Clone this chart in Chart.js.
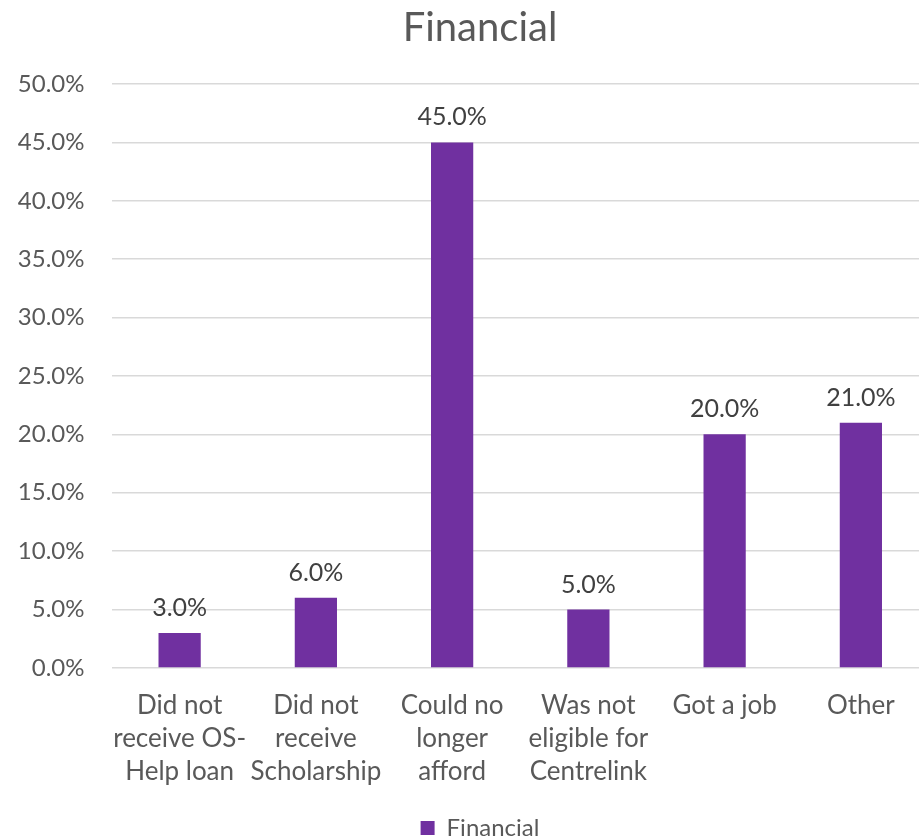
<!DOCTYPE html>
<html>
<head>
<meta charset="utf-8">
<script src="https://cdn.jsdelivr.net/npm/chart.js@4.4.0/dist/chart.umd.min.js"></script>
<style>
html,body{margin:0;padding:0;background:#fff;overflow:hidden;}
#wrap{width:919px;height:838px;overflow:hidden;position:relative;}
#c{position:absolute;left:0;top:0;}
</style>
</head>
<body>
<div id="wrap"><canvas id="c" width="960" height="838"></canvas></div>
<script>
const categories = [
  ["Did not", "receive OS-", "Help loan"],
  ["Did not", "receive", "Scholarship"],
  ["Could no", "longer", "afford"],
  ["Was not", "eligible for", "Centrelink"],
  ["Got a job"],
  ["Other"]
];
const financialValues = [3.0, 6.0, 45.0, 5.0, 20.0, 21.0];
const seriesName = "Financial";
const chartTitle = "Financial";

const FONT = "Lato, 'Open Sans', sans-serif";
const TEXT = "#595959";

const dataLabels = {
  id: 'dataLabels',
  afterDatasetsDraw(chart) {
    const ctx = chart.ctx;
    const meta = chart.getDatasetMeta(0);
    ctx.save();
    ctx.font = "25px " + FONT;
    ctx.fillStyle = "#404040";
    ctx.textAlign = "center";
    ctx.textBaseline = "middle";
    meta.data.forEach((bar, i) => {
      const v = chart.data.datasets[0].data[i];
      ctx.fillText(v.toFixed(1) + "%", bar.x, bar.y - 25);
    });
    ctx.restore();
  }
};

new Chart(document.getElementById('c'), {
  type: 'bar',
  data: {
    labels: categories,
    datasets: [{
      label: seriesName,
      data: financialValues,
      backgroundColor: "#7030A0",
      borderWidth: 0,
      categoryPercentage: 1.0,
      barPercentage: 0.31
    }]
  },
  options: {
    responsive: false,
    animation: false,
    devicePixelRatio: 1,
    layout: { padding: { left: 0, right: 0, top: 0, bottom: -12 } },
    plugins: {
      title: {
        display: true,
        text: chartTitle,
        color: TEXT,
        font: { family: FONT, size: 40, weight: 'normal' },
        padding: { top: 4, bottom: 32 }
      },
      legend: {
        display: true,
        position: 'bottom',
        labels: {
          color: TEXT,
          font: { family: FONT, size: 24 },
          boxWidth: 14,
          boxHeight: 14,
          padding: 1
        }
      },
      tooltip: { enabled: false }
    },
    scales: {
      y: {
        min: 0,
        max: 50,
        ticks: {
          stepSize: 5,
          color: TEXT,
          font: { family: FONT, size: 24 },
          padding: 27,
          callback: v => Number(v).toFixed(1) + "%"
        },
        grid: { color: "#d9d9d9", lineWidth: 1.5, drawTicks: false },
        border: { display: false },
        afterFit(scale) { scale.width = 111.5; }
      },
      yRightSpace: {
        type: 'linear',
        position: 'right',
        display: true,
        ticks: { display: false },
        grid: { display: false, drawTicks: false },
        border: { display: false },
        afterFit(scale) { scale.width = 31; }
      },
      x: {
        ticks: {
          color: TEXT,
          font: { family: FONT, size: 26, lineHeight: 1.27 },
          padding: 21,
          maxRotation: 0,
          autoSkip: false
        },
        grid: { display: false, drawTicks: false },
        border: { display: false },
        afterFit(scale) { scale.height += 6; }
      }
    }
  },
  plugins: [dataLabels]
});
</script>
</body>
</html>
